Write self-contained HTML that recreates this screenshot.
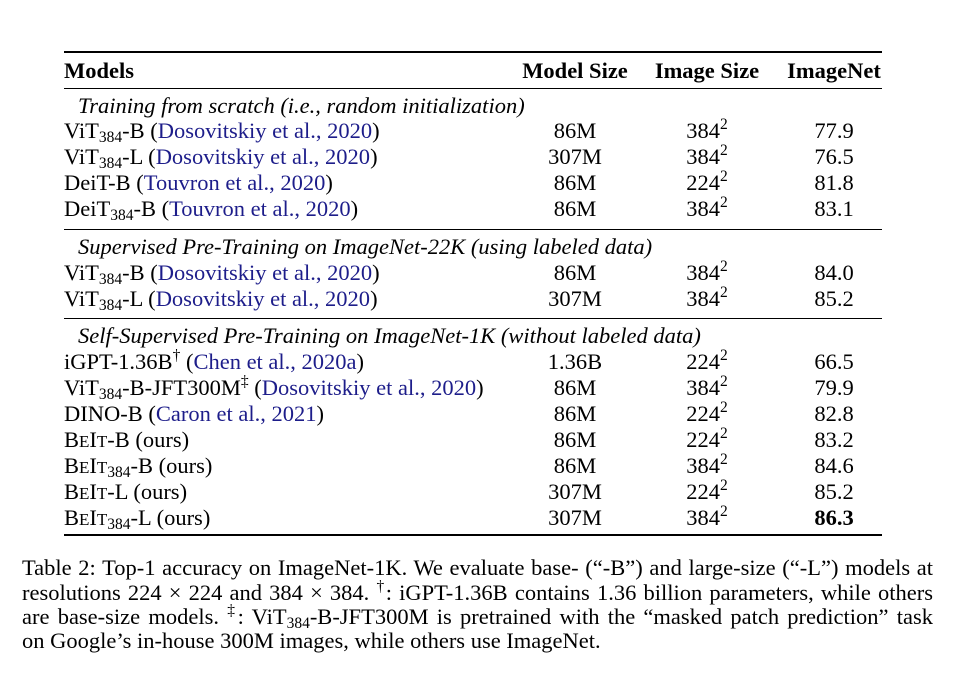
<!DOCTYPE html>
<html><head><meta charset="utf-8"><style>
body{margin:0;width:955px;height:691px;background:#fff;position:relative;font-family:"Liberation Serif",serif;font-size:22.5px;color:#000;overflow:hidden}
.r{position:absolute;left:64px;width:818px;height:26px;line-height:26px;white-space:nowrap}
.r span.c{position:absolute;text-align:center;width:130px}
.c1{left:446px}.c2{left:578px}.c3{left:705px}
.rule{position:absolute;left:64px;width:818px;background:#000}
.l{color:#1d1d8a}
sub{font-size:15.5px;vertical-align:-4px;line-height:0}
sup{font-size:15.5px;vertical-align:9px;line-height:0}
.sc{font-size:17px}
.sec{font-style:italic;padding-left:14px}
.cap{position:absolute;left:22px;width:911px;line-height:25px;text-align:justify;text-align-last:justify;white-space:nowrap;font-size:22.5px}
</style></head><body>
<div class="rule" style="top:51px;height:2px"></div>
<div class="r" style="top:58px;font-weight:bold"><span>Models</span><span class="c c1">Model Size</span><span class="c c2">Image Size</span><span class="c c3">ImageNet</span></div>
<div class="rule" style="top:88px;height:1px"></div>

<div class="r sec" style="top:93px">Training from scratch (i.e., random initialization)</div>
<div class="r" style="top:118px"><span>ViT<sub>384</sub>-B (<span class="l">Dosovitskiy et al., 2020</span>)</span><span class="c c1">86M</span><span class="c c2">384<sup>2</sup></span><span class="c c3">77.9</span></div>
<div class="r" style="top:144px"><span>ViT<sub>384</sub>-L (<span class="l">Dosovitskiy et al., 2020</span>)</span><span class="c c1">307M</span><span class="c c2">384<sup>2</sup></span><span class="c c3">76.5</span></div>
<div class="r" style="top:170px"><span>DeiT-B (<span class="l">Touvron et al., 2020</span>)</span><span class="c c1">86M</span><span class="c c2">224<sup>2</sup></span><span class="c c3">81.8</span></div>
<div class="r" style="top:196px"><span>DeiT<sub>384</sub>-B (<span class="l">Touvron et al., 2020</span>)</span><span class="c c1">86M</span><span class="c c2">384<sup>2</sup></span><span class="c c3">83.1</span></div>
<div class="rule" style="top:229px;height:1px"></div>

<div class="r sec" style="top:234px">Supervised Pre-Training on ImageNet-22K (using labeled data)</div>
<div class="r" style="top:260px"><span>ViT<sub>384</sub>-B (<span class="l">Dosovitskiy et al., 2020</span>)</span><span class="c c1">86M</span><span class="c c2">384<sup>2</sup></span><span class="c c3">84.0</span></div>
<div class="r" style="top:286px"><span>ViT<sub>384</sub>-L (<span class="l">Dosovitskiy et al., 2020</span>)</span><span class="c c1">307M</span><span class="c c2">384<sup>2</sup></span><span class="c c3">85.2</span></div>
<div class="rule" style="top:318px;height:1px"></div>

<div class="r sec" style="top:323px">Self-Supervised Pre-Training on ImageNet-1K (without labeled data)</div>
<div class="r" style="top:349px"><span>iGPT-1.36B<sup>†</sup> (<span class="l">Chen et al., 2020a</span>)</span><span class="c c1">1.36B</span><span class="c c2">224<sup>2</sup></span><span class="c c3">66.5</span></div>
<div class="r" style="top:375px"><span>ViT<sub>384</sub>-B-JFT300M<sup>‡</sup> (<span class="l">Dosovitskiy et al., 2020</span>)</span><span class="c c1">86M</span><span class="c c2">384<sup>2</sup></span><span class="c c3">79.9</span></div>
<div class="r" style="top:401px"><span>DINO-B (<span class="l">Caron et al., 2021</span>)</span><span class="c c1">86M</span><span class="c c2">224<sup>2</sup></span><span class="c c3">82.8</span></div>
<div class="r" style="top:427px"><span>B<span class="sc">E</span>I<span class="sc">T</span>-B (ours)</span><span class="c c1">86M</span><span class="c c2">224<sup>2</sup></span><span class="c c3">83.2</span></div>
<div class="r" style="top:453px"><span>B<span class="sc">E</span>I<span class="sc">T</span><sub>384</sub>-B (ours)</span><span class="c c1">86M</span><span class="c c2">384<sup>2</sup></span><span class="c c3">84.6</span></div>
<div class="r" style="top:479px"><span>B<span class="sc">E</span>I<span class="sc">T</span>-L (ours)</span><span class="c c1">307M</span><span class="c c2">224<sup>2</sup></span><span class="c c3">85.2</span></div>
<div class="r" style="top:505px"><span>B<span class="sc">E</span>I<span class="sc">T</span><sub>384</sub>-L (ours)</span><span class="c c1">307M</span><span class="c c2">384<sup>2</sup></span><span class="c c3" style="font-weight:bold">86.3</span></div>
<div class="rule" style="top:534px;height:2px"></div>

<div class="cap" style="top:555px">Table 2: Top-1 accuracy on ImageNet-1K. We evaluate base- (“-B”) and large-size (“-L”) models at</div>
<div class="cap" style="top:580px">resolutions 224 × 224 and 384 × 384. <sup>†</sup>: iGPT-1.36B contains 1.36 billion parameters, while others</div>
<div class="cap" style="top:604px">are base-size models. <sup>‡</sup>: ViT<sub>384</sub>-B-JFT300M is pretrained with the “masked patch prediction” task</div>
<div class="cap" style="top:628px;text-align-last:left">on Google’s in-house 300M images, while others use ImageNet.</div>
</body></html>
